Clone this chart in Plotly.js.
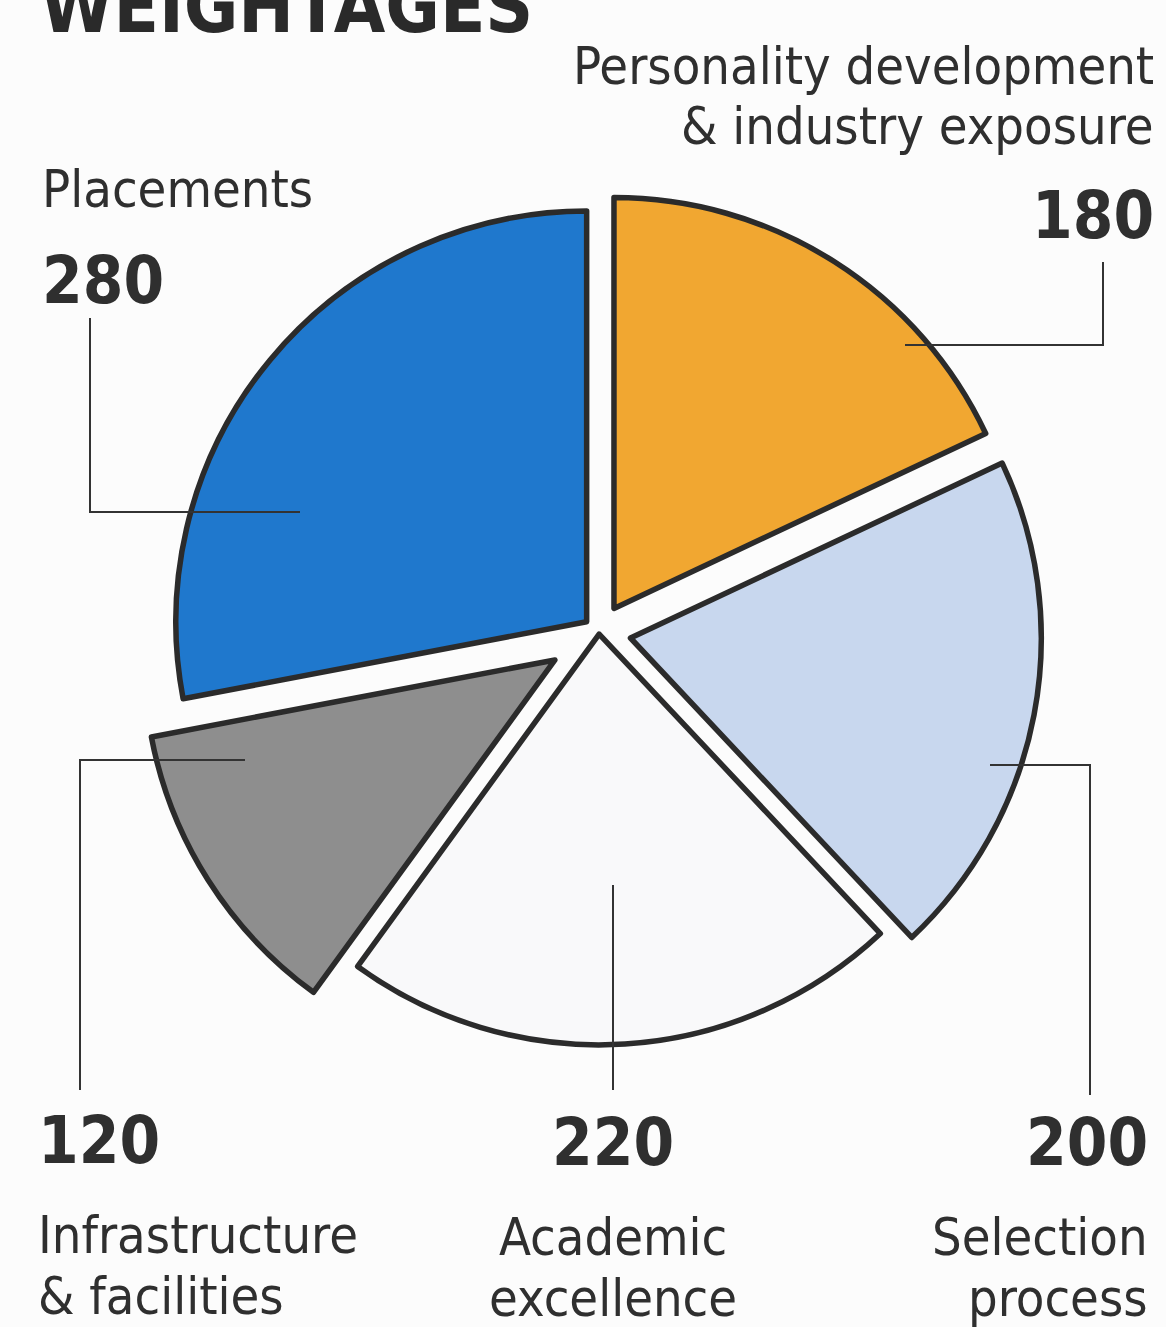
<!DOCTYPE html>
<html><head><meta charset="utf-8">
<script src="https://cdn.plot.ly/plotly-3.0.1.min.js"></script>
<style>html,body{margin:0;padding:0;background:#fcfcfc;} #chart{width:1166px;height:1327px;}</style>
</head><body><div id="chart"></div>
<script>
// ---- data ----
const chartTitle = "WEIGHTAGES";
const categories = ["Personality development & industry exposure", "Selection process", "Academic excellence", "Infrastructure & facilities", "Placements"];
const values = [180, 200, 220, 120, 280];
const labelLines = [["Personality development", "& industry exposure"], ["Selection", "process"], ["Academic", "excellence"], ["Infrastructure", "& facilities"], ["Placements"]];

// ---- styles ----
const colors = ["#f1a731", "#c8d7ee", "#f9f9fa", "#8e8e8e", "#1f78cd"];
const pulls = [0.068, 0.078, 0.005, 0.127, 0.039];
const W = 1166, H = 1327;
const px = x => x / W;
const py = y => 1 - y / H;
const FONT = "'Liberation Sans Narrow', 'DejaVu Sans Condensed', 'Roboto Condensed', 'Liberation Sans', sans-serif";
const INK = "#2f2f2f";
const LBL = 52, NUM = 65;
const mid = (base, s) => base - 0.346 * s;

// label placement (pixels): anchor, x, baseline of number, baselines of label lines
const place = [
  {a: "right", x: 1156, num: 238, lines: [84, 144]},
  {a: "right", x: 1150, num: 1165, lines: [1255, 1316]},
  {a: "center", x: 613, num: 1165, lines: [1255, 1316]},
  {a: "left", x: 36, num: 1163, lines: [1253, 1314]},
  {a: "left", x: 40, num: 303, lines: [207]}
];
// leader lines (pixels)
const leaders = [
  [[905, 345], [1103, 345], [1103, 262]],
  [[990, 765], [1090, 765], [1090, 1095]],
  [[613, 885], [613, 1090]],
  [[245, 760], [80, 760], [80, 1090]],
  [[300, 512], [90, 512], [90, 318]]
];

const annotations = [];
categories.forEach((c, i) => {
  const p = place[i];
  annotations.push({text: "<b>" + values[i] + "</b>", x: px(p.x), y: py(mid(p.num, NUM)), xref: "paper", yref: "paper",
    xanchor: p.a, yanchor: "middle", showarrow: false, font: {family: FONT, size: NUM, color: INK}});
  labelLines[i].forEach((t, j) => {
    annotations.push({text: t, x: px(p.x), y: py(mid(p.lines[j], LBL)), xref: "paper", yref: "paper",
      xanchor: p.a, yanchor: "middle", showarrow: false, font: {family: FONT, size: LBL, color: INK}});
  });
});
annotations.push({text: "<b>" + chartTitle + "</b>", x: px(38), y: py(mid(32, 74)), xref: "paper", yref: "paper",
  xanchor: "left", yanchor: "middle", showarrow: false, font: {family: FONT, size: 74, color: "#2a2a2a"}});

const shapes = leaders.map(pts => ({
  type: "path", xref: "paper", yref: "paper",
  path: pts.map((q, k) => (k ? "L" : "M") + px(q[0]) + "," + py(q[1])).join(" "),
  line: {color: "#333", width: 2}
}));

const trace = {
  type: "pie",
  labels: categories,
  values: values,
  sort: false,
  direction: "clockwise",
  rotation: 0,
  pull: pulls,
  textinfo: "none",
  hoverinfo: "label+value",
  showlegend: false,
  marker: {colors: colors, line: {color: "#2b2b2b", width: 5.5}},
  domain: {x: [px(136), px(1062)], y: [py(1095), py(169)]}
};

Plotly.newPlot("chart", [trace], {
  width: W, height: H,
  margin: {l: 0, r: 0, t: 0, b: 0},
  paper_bgcolor: "#fcfcfc",
  showlegend: false,
  annotations: annotations,
  shapes: shapes
}, {displayModeBar: false, staticPlot: true});
</script></body></html>
